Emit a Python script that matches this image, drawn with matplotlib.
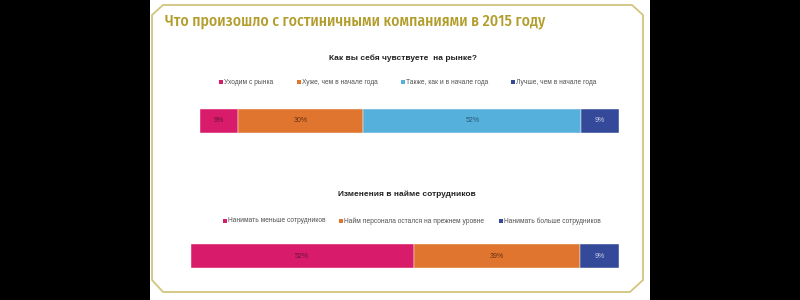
import matplotlib.pyplot as plt
from matplotlib.patches import Polygon, Rectangle

plt.rcParams['font.family'] = ['Liberation Sans', 'DejaVu Sans']

title = 'Что произошло с гостиничными компаниями в 2015 году'

q1_title = 'Как вы себя чувствуете  на рынке?'
q1_labels = ['Уходим с рынка', 'Хуже, чем в начале года',
             'Также, как и в начале года', 'Лучше, чем в начале года']
q1_values = [9, 30, 52, 9]
q1_colors = ['#d81b6a', '#e07530', '#56b0dc', '#34499a']

q2_title = 'Изменения в найме сотрудников'
q2_labels = ['Нанимать меньше сотрудников', 'Найм персонала остался на прежнем уровне',
             'Нанимать больше сотрудников']
q2_values = [52, 39, 9]
q2_colors = ['#d81b6a', '#e07530', '#34499a']

W, H = 800, 300
fig = plt.figure(figsize=(8, 3), dpi=100)
fig.patch.set_facecolor('black')


def px(x, y):
    # pixel coords (top-left origin) -> figure fraction
    return x / W, 1 - y / H


# white panel
fig.patches.append(Rectangle(px(150, 300), 500 / W, 1, transform=fig.transFigure,
                             facecolor='white', edgecolor='none', zorder=-2))
# gold octagon frame
corners = [(152, 15), (163, 5), (632, 5), (643, 15), (643, 280), (630, 292), (163, 292), (152, 280)]
fig.patches.append(Polygon([px(x, y) for x, y in corners], closed=True, transform=fig.transFigure,
                           facecolor='none', edgecolor='#d2c57e', linewidth=1.3, zorder=-1))

fig.text(*px(165, 21), title, color='#b29d2c', fontsize=11.3, fontweight='medium',
         family=['Fira Sans Condensed', 'PT Sans Narrow', 'Roboto Condensed',
                 'Sofia Sans Condensed', 'DejaVu Sans'], ha='left', va='center')


def stacked(box, values, colors, label_colors):
    l, t, r, b = box
    x0, y0 = px(l, b)
    ax = fig.add_axes([x0, y0, (r - l) / W, (b - t) / H])
    ax.set_zorder(3)
    left = 0
    for v, c, lc in zip(values, colors, label_colors):
        ax.barh(0, v, left=left, color=c, height=1, edgecolor='white', linewidth=0.3)
        ax.text(left + v / 2, 0, f'{v}%', ha='center', va='center', fontsize=5, color=lc)
        left += v
    ax.set_xlim(0, sum(values))
    ax.set_ylim(-0.5, 0.5)
    ax.axis('off')
    return ax


def legend(labels, colors, y, xs):
    for lab, c, x in zip(labels, colors, xs):
        fig.patches.append(Rectangle(px(x - 2, y + 2), 4 / W, 4 / H, transform=fig.transFigure,
                                     facecolor=c, edgecolor='none'))
        fig.text(*px(x + 3, y), lab, fontsize=4.8, color='#505050', ha='left', va='center')


# chart 1
fig.text(*px(403, 58), q1_title, fontsize=6, fontweight='bold', color='#222222',
         ha='center', va='center')
legend(q1_labels, q1_colors, 82, [221, 299, 403, 513])
stacked((200, 109, 619, 133), q1_values, q1_colors, ['#6a1535', '#6b3010', '#2a5a75', '#c5cde6'])

# chart 2
fig.text(*px(407, 194), q2_title, fontsize=6, fontweight='bold', color='#222222',
         ha='center', va='center')
legend(q2_labels, q2_colors, 221, [225, 341, 501])
stacked((191, 244, 619, 268), q2_values, q2_colors, ['#6a1535', '#6b3010', '#c5cde6'])

fig.savefig('out.png', dpi=100, facecolor=fig.get_facecolor())
